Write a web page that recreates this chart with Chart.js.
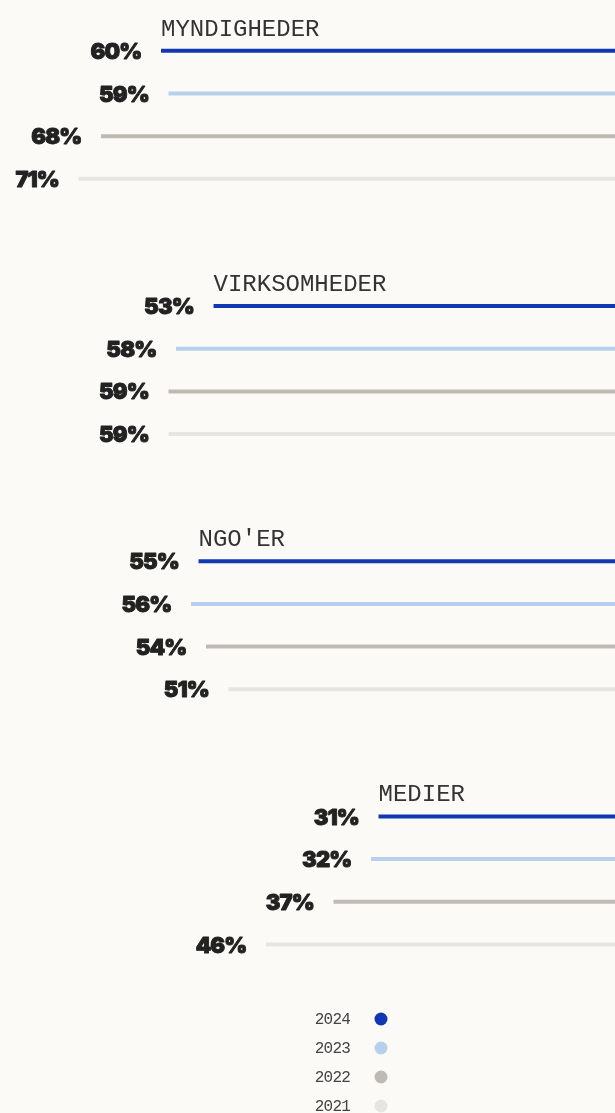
<!DOCTYPE html>
<html>
<head>
<meta charset="utf-8">
<script src="https://cdn.jsdelivr.net/npm/chart.js@4"></script>
<style>
  html, body { margin: 0; padding: 0; background: #fbfaf6; }
  #wrap { width: 615px; height: 1113px; position: relative; }
</style>
</head>
<body>
<div id="wrap"><canvas id="chart"></canvas></div>
<script>
const groups = ['MYNDIGHEDER', 'VIRKSOMHEDER', "NGO'ER", 'MEDIER'];
const years = ['2024', '2023', '2022', '2021'];
const values2024 = [60, 53, 55, 31];
const values2023 = [59, 58, 56, 32];
const values2022 = [68, 59, 54, 37];
const values2021 = [71, 59, 51, 46];
const yearColors = ['#1237b3', '#b9cfee', '#bebbb4', '#e6e5e1'];

const series = [values2024, values2023, values2022, values2021];

// value labels at the left end of each bar + group title above the 2024 bar
const barLabels = {
  id: 'barLabels',
  afterDatasetsDraw(chart) {
    const ctx = chart.ctx;
    ctx.save();
    chart.data.datasets.forEach((ds, di) => {
      const meta = chart.getDatasetMeta(di);
      meta.data.forEach((bar, i) => {
        const txt = ds.data[i].x + '%';
        ctx.font = '900 22px Inter';
        ctx.letterSpacing = '-0.8px';
        ctx.fillStyle = '#222';
        ctx.strokeStyle = '#222';
        ctx.lineWidth = 0.9;
        ctx.lineJoin = 'round';
        ctx.textAlign = 'right';
        ctx.textBaseline = 'middle';
        ctx.fillText(txt, bar.x - 19.5, bar.y + 1.5);
        ctx.strokeText(txt, bar.x - 19.5, bar.y + 1.5);
        if (di === 0) {
          ctx.font = '300 24px "Liberation Mono"';
          ctx.letterSpacing = '0px';
          ctx.fillStyle = '#333';
          ctx.textAlign = 'left';
          ctx.textBaseline = 'alphabetic';
          ctx.fillText(groups[i], bar.x, bar.y - 15);
        }
      });
    });
    // legend
    chart.data.datasets.forEach((ds, di) => {
      const y = 1019 + di * 29;
      ctx.font = '16px "Liberation Mono"';
      ctx.fillStyle = '#444';
      ctx.textAlign = 'right';
      ctx.textBaseline = 'middle';
      ctx.fillText(ds.label, 350, y + 1);
      ctx.beginPath();
      ctx.arc(381, y, 6.5, 0, Math.PI * 2);
      ctx.fillStyle = ds.backgroundColor;
      ctx.fill();
    });
    ctx.restore();
  }
};

new Chart(document.getElementById('chart'), {
  type: 'bar',
  data: {
    datasets: years.map((yr, k) => ({
      label: yr,
      data: series[k].map((v, i) => ({ x: v, y: i })),
      backgroundColor: yearColors[k],
      base: -1,
      maxBarThickness: 4,
      barPercentage: 1,
      categoryPercentage: 0.669
    }))
  },
  options: {
    indexAxis: 'y',
    responsive: true,
    maintainAspectRatio: false,
    animation: false,
    layout: { padding: 0 },
    scales: {
      x: {
        type: 'linear',
        reverse: true,
        min: -0.53,
        max: 81.47,
        offset: false,
        display: false
      },
      y: {
        type: 'linear',
        reverse: true,
        min: -0.45,
        max: 3.9113,
        offset: false,
        display: false,
        afterBuildTicks(scale) {
          scale.ticks = [0, 1, 2, 3].map(v => ({ value: v }));
        }
      }
    },
    plugins: {
      legend: { display: false },
      tooltip: { enabled: false }
    }
  },
  plugins: [barLabels]
});
</script>
</body>
</html>
